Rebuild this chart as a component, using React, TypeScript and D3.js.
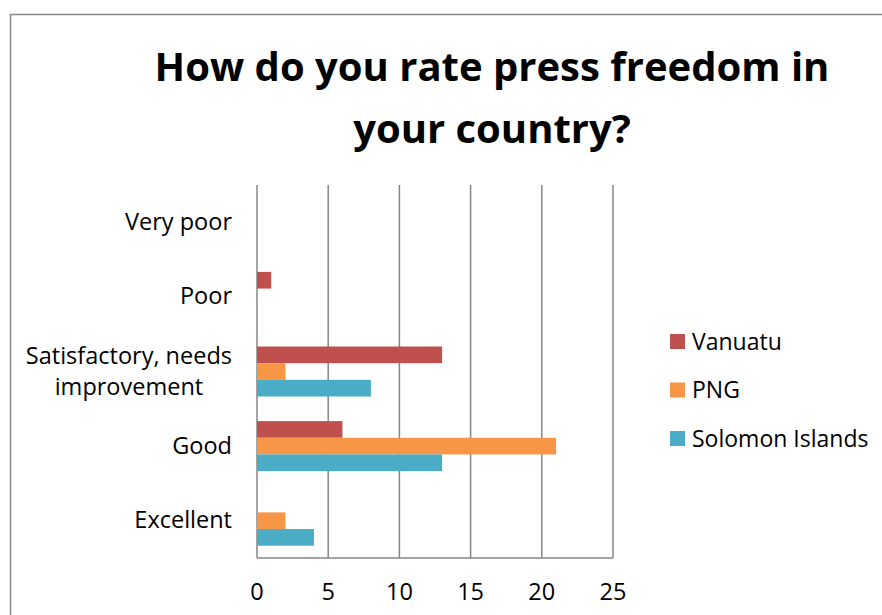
import React from "react";
import * as d3 from "d3";

const categories = ["Very poor", "Poor", "Satisfactory, needs improvement", "Good", "Excellent"];
const categoryLines = [["Very poor"], ["Poor"], ["Satisfactory, needs", "improvement"], ["Good"], ["Excellent"]];
const seriesNames = ["Vanuatu", "PNG", "Solomon Islands"];
const vanuatu = [0, 1, 13, 6, 0];
const png = [0, 0, 2, 21, 2];
const solomon = [0, 0, 8, 13, 4];
const colors = ["#C0504D", "#F79646", "#4BACC6"];
const xTicks = [0, 5, 10, 15, 20, 25];
const titleLines = ["How do you rate press freedom in", "your country?"];

const W = 882;
const H = 615;
const FONT = "'Open Sans', 'Noto Sans', sans-serif";
const LABEL_SIZE = 23.5;

function measure(text: string, size: number): number {
  if (typeof document === "undefined") return text.length * size * 0.5;
  const c = document.createElement("canvas");
  const ctx = c.getContext("2d");
  if (!ctx) return text.length * size * 0.5;
  ctx.font = `${size}px 'Open Sans', 'Noto Sans', sans-serif`;
  return ctx.measureText(text).width;
}

export default function App() {
  const values = [vanuatu, png, solomon];
  const x = d3.scaleLinear().domain([0, 25]).range([257, 613]);
  const y = d3.scaleBand<string>().domain(categories).range([185, 558]).paddingInner(0.33).paddingOuter(0.165);
  const inner = d3.scaleBand<string>().domain(seriesNames).range([0, y.bandwidth()]);
  const grid = "#868686";
  const labelRight = 232;

  return (
    <svg width={W} height={H} style={{ position: "absolute", left: 0, top: 0, display: "block" }} fontFamily={FONT}>
      <rect x={0} y={0} width={W} height={H} fill="#fff" />
      <path d={`M10.5,${H} V14.5 H${W}`} fill="none" stroke="#878787" strokeWidth={1.5} />
      {titleLines.map((t, i) => (
        <text key={t} x={492} y={81 + i * 62} textAnchor="middle" fontSize={40} fontWeight="bold" fill="#000">
          {t}
        </text>
      ))}
      {xTicks.map((t) => (
        <line key={"g" + t} x1={x(t)} x2={x(t)} y1={185} y2={558} stroke={grid} strokeWidth={1.5} />
      ))}
      <line x1={x(0)} x2={x(25)} y1={558} y2={558} stroke={grid} strokeWidth={1.5} />
      {values.map((vals, si) =>
        vals.map((v, ci) =>
          v > 0 ? (
            <rect
              key={si + "-" + ci}
              x={x(0)}
              y={(y(categories[ci]) ?? 0) + (inner(seriesNames[si]) ?? 0)}
              width={x(v) - x(0)}
              height={inner.bandwidth()}
              fill={colors[si]}
            />
          ) : null
        )
      )}
      {xTicks.map((t) => (
        <text key={"t" + t} x={x(t)} y={600} textAnchor="middle" fontSize={LABEL_SIZE} fill="#000">
          {t}
        </text>
      ))}
      {categories.map((c, ci) => {
        const lines = categoryLines[ci];
        const cy = (y(c) ?? 0) + y.bandwidth() / 2;
        const lh = 31;
        const maxW = Math.max(...lines.map((l) => measure(l, LABEL_SIZE)));
        const cx = labelRight - maxW / 2;
        return lines.map((l, li) => (
          <text
            key={c + li}
            x={lines.length > 1 ? cx : labelRight}
            y={cy + (li - (lines.length - 1) / 2) * lh + 7.5}
            textAnchor={lines.length > 1 ? "middle" : "end"}
            fontSize={LABEL_SIZE}
            fill="#000"
          >
            {l}
          </text>
        ));
      })}
      {seriesNames.map((s, i) => (
        <g key={s} transform={`translate(670, ${334 + i * 48.5})`}>
          <rect x={0} y={0} width={15} height={15} fill={colors[i]} />
          <text x={22} y={15.5} fontSize={23} fill="#000">
            {s}
          </text>
        </g>
      ))}
    </svg>
  );
}
